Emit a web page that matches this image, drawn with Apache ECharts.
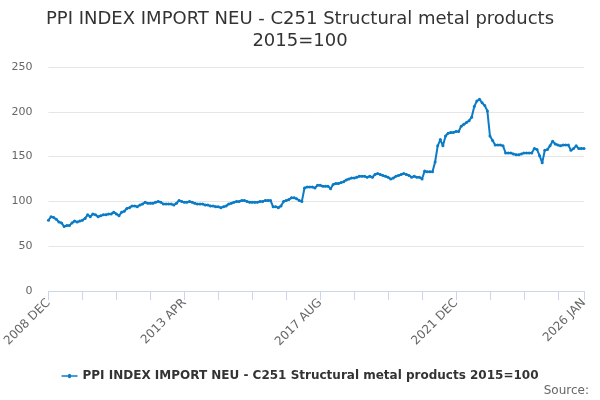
<!DOCTYPE html>
<html>
<head>
<meta charset="utf-8">
<script src="https://cdn.jsdelivr.net/npm/echarts@6/dist/echarts.min.js"></script>
<style>html,body{margin:0;padding:0;background:#fff}#c{width:600px;height:400px}</style>
</head>
<body>
<div id="c"></div>
<script>
var seriesName = 'PPI INDEX IMPORT NEU - C251 Structural metal products 2015=100';
var titleText = 'PPI INDEX IMPORT NEU - C251 Structural metal products\n2015=100';
var monthNames = ['JAN','FEB','MAR','APR','MAY','JUN','JUL','AUG','SEP','OCT','NOV','DEC'];
var startYear = 2008, startMonth = 11; // 2008 DEC
var values = [
 79,83,82,80,77,76,72,73,73,76,78,77,
 78,79,81,85,83,86,85,83,84,85,85,86,
 86,88,86,84,88,89,92,93,95,95,94,96,
 97,99,98,98,98,99,100,99,97,97,97,97,
 96,98,101,100,99,99,100,99,98,97,97,97,
 96,96,95,95,94,94,93,94,95,97,98,99,
 100,100,101,101,100,99,99,99,99,100,100,101,
 101,101,94,94,93,95,100,101,102,104,104,103,
 101,100,115,116,116,116,115,118,118,117,117,117,
 114,119,120,120,121,122,124,125,126,126,127,128,
 128,128,127,128,127,130,131,130,129,128,127,125,
 126,128,129,130,131,130,129,127,128,127,127,125,
 134,133,133,133,144,162,169,162,173,176,177,177,
 178,178,184,186,188,190,194,206,212,214,210,207,
 201,173,168,163,163,163,162,154,154,154,153,152,
 152,153,154,154,154,154,159,158,151,143,157,158,
 162,167,164,163,162,163,163,163,157,159,162,159,
 159,159
];
var yTicks = [0, 50, 100, 150, 200, 250];
var categories = [];
for (var k = 0; k < values.length; k++) {
  var m = startMonth + k;
  categories.push((startYear + Math.floor(m / 12)) + ' ' + monthNames[m % 12]);
}
var last = categories.length - 1;
var chart = echarts.init(document.getElementById('c'));
chart.setOption({
  animation: false,
  title: {
    text: titleText,
    left: 'center',
    top: 3,
    textStyle: { fontFamily: 'DejaVu Sans', fontSize: 18, fontWeight: 'normal', color: '#333', lineHeight: 22 }
  },
  graphic: [{
    type: 'text', right: 11, bottom: 3,
    style: { text: 'Source:', fontFamily: 'DejaVu Sans', fontSize: 12, fill: '#666' }
  }],
  legend: {
    bottom: 13,
    left: 'center',
    itemWidth: 16, itemHeight: 8,
    data: [{ name: seriesName, icon: 'path://M0,3.2 L6.5,3.2 A1.5,1.5 0 1 1 9.5,3.2 L16,3.2 L16,4.8 L9.5,4.8 A1.5,1.5 0 1 1 6.5,4.8 L0,4.8 Z' }],
    textStyle: { fontFamily: 'DejaVu Sans', fontSize: 12, fontWeight: 'bold', color: '#333' }
  },
  grid: { left: 46, right: 16, top: 67, bottom: 109, containLabel: false },
  xAxis: {
    type: 'category',
    data: categories,
    boundaryGap: false,
    axisLine: { lineStyle: { color: '#ccd6eb' } },
    axisTick: { length: 9, lineStyle: { color: '#ccd6eb' }, interval: function (i) { return i % 13 === 0 || i === last; } },
    axisLabel: {
      rotate: 45, color: '#666', fontFamily: 'DejaVu Sans', fontSize: 12, margin: 10,
      interval: function (i) { return i % 52 === 0 || i === last; }
    },
    splitLine: { show: false }
  },
  yAxis: {
    type: 'value',
    min: yTicks[0], max: yTicks[yTicks.length - 1], interval: 50,
    axisLine: { show: false },
    axisTick: { show: false },
    axisLabel: { color: '#666', fontFamily: 'DejaVu Sans', fontSize: 11, margin: 16 },
    splitLine: { lineStyle: { color: '#e6e6e6' } }
  },
  series: [{
    name: seriesName,
    type: 'line',
    data: values,
    symbol: 'circle',
    symbolSize: 3,
    showAllSymbol: true,
    itemStyle: { color: '#0a7bc6' },
    lineStyle: { width: 2, color: '#0a7bc6' }
  }]
});
</script>
</body>
</html>
